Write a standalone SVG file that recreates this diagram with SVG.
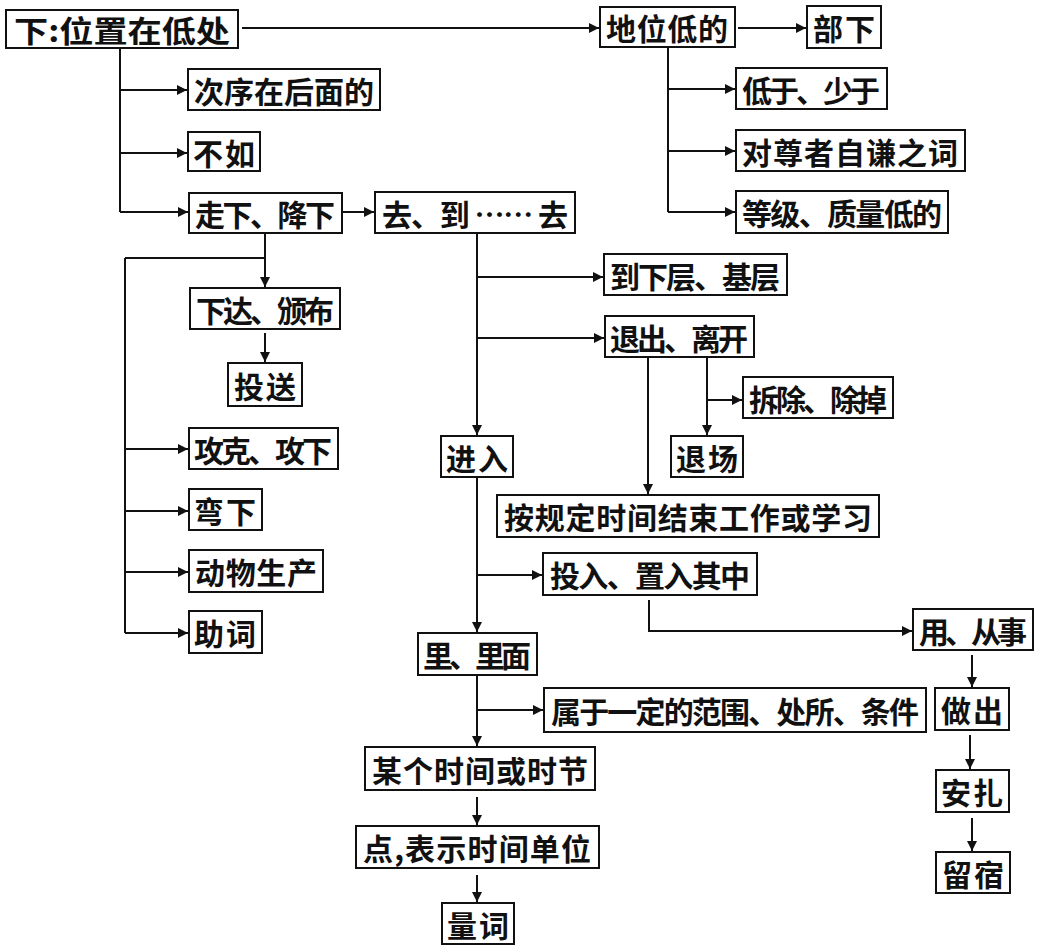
<svg xmlns="http://www.w3.org/2000/svg" width="1037" height="949" viewBox="0 0 1037 949">
<style>
.box{fill:#fff;stroke:#111;stroke-width:2}
.t{font-family:"Noto Sans CJK SC","Noto Sans CJK JP",sans-serif;font-size:30px;font-weight:700;fill:#111;text-anchor:middle;dominant-baseline:central}
.c{fill:none;stroke:#111;stroke-width:2}
</style>
<defs>
<marker id="ah" markerUnits="userSpaceOnUse" markerWidth="11" markerHeight="10" refX="10" refY="5" orient="auto">
<path d="M0,0 L10,5 L0,10 z" fill="#111"/>
</marker>
</defs>
<rect width="1037" height="949" fill="#fff"/>
<g id="connectors">
<path class="c" d="M242,28 H599" marker-end="url(#ah)"/>
<path class="c" d="M738,28 H806" marker-end="url(#ah)"/>
<path class="c" d="M668,47 V212"/>
<path class="c" d="M668,89 H735" marker-end="url(#ah)"/>
<path class="c" d="M668,151 H735" marker-end="url(#ah)"/>
<path class="c" d="M668,212 H735" marker-end="url(#ah)"/>
<path class="c" d="M120,49 V212"/>
<path class="c" d="M120,90 H187" marker-end="url(#ah)"/>
<path class="c" d="M120,153 H187" marker-end="url(#ah)"/>
<path class="c" d="M120,212 H188" marker-end="url(#ah)"/>
<path class="c" d="M342,212 H374" marker-end="url(#ah)"/>
<path class="c" d="M265,233 V287" marker-end="url(#ah)"/>
<path class="c" d="M125,258 H265"/>
<path class="c" d="M125,258 V633"/>
<path class="c" d="M125,449 H188" marker-end="url(#ah)"/>
<path class="c" d="M125,511 H188" marker-end="url(#ah)"/>
<path class="c" d="M125,572 H188" marker-end="url(#ah)"/>
<path class="c" d="M125,633 H188" marker-end="url(#ah)"/>
<path class="c" d="M265,333 V362" marker-end="url(#ah)"/>
<path class="c" d="M477,233 V435" marker-end="url(#ah)"/>
<path class="c" d="M477,277 H603" marker-end="url(#ah)"/>
<path class="c" d="M477,338 H604" marker-end="url(#ah)"/>
<path class="c" d="M648,357 V494" marker-end="url(#ah)"/>
<path class="c" d="M707,357 V435" marker-end="url(#ah)"/>
<path class="c" d="M707,400 H742" marker-end="url(#ah)"/>
<path class="c" d="M477,477 V632" marker-end="url(#ah)"/>
<path class="c" d="M477,575 H542" marker-end="url(#ah)"/>
<path class="c" d="M649,600 V631 H912" marker-end="url(#ah)"/>
<path class="c" d="M972,655 V687" marker-end="url(#ah)"/>
<path class="c" d="M477,675 V746" marker-end="url(#ah)"/>
<path class="c" d="M477,710 H543" marker-end="url(#ah)"/>
<path class="c" d="M970,735 V769" marker-end="url(#ah)"/>
<path class="c" d="M972,818 V851" marker-end="url(#ah)"/>
<path class="c" d="M477,797 V825" marker-end="url(#ah)"/>
<path class="c" d="M477,875 V902" marker-end="url(#ah)"/>
</g>
<g id="n1"><rect class="box" x="6" y="10" width="232" height="38"/><text class="t" x="122" y="29" textLength="216" lengthAdjust="spacingAndGlyphs">下:位置在低处</text></g>
<g id="n2"><rect class="box" x="600" y="7" width="135" height="40"/><text class="t" x="667" y="27" textLength="122">地位低的</text></g>
<g id="n3"><rect class="box" x="807" y="6" width="74" height="42"/><text class="t" x="844" y="27" textLength="62">部下</text></g>
<g id="n4"><rect class="box" x="736" y="68" width="151" height="41"/><text class="t" x="811" y="89" textLength="138">低于、少于</text></g>
<g id="n5"><rect class="box" x="736" y="130" width="229" height="41"/><text class="t" x="850" y="151" textLength="216">对尊者自谦之词</text></g>
<g id="n6"><rect class="box" x="736" y="191" width="212" height="42"/><text class="t" x="842" y="212" textLength="200">等级、质量低的</text></g>
<g id="n7"><rect class="box" x="188" y="69" width="192" height="41"/><text class="t" x="284" y="90" textLength="180">次序在后面的</text></g>
<g id="n8"><rect class="box" x="188" y="132" width="72" height="39"/><text class="t" x="224" y="152" textLength="62">不如</text></g>
<g id="n9"><rect class="box" x="189" y="193" width="153" height="40"/><text class="t" x="265" y="213" textLength="140">走下、降下</text></g>
<g id="n10"><rect class="box" x="375" y="192" width="200" height="41"/><text class="t" x="475" y="213" textLength="186">去、到 …… 去</text></g>
<g id="n11"><rect class="box" x="190" y="288" width="150" height="41"/><text class="t" x="265" y="309" textLength="138">下达、颁布</text></g>
<g id="n12"><rect class="box" x="228" y="363" width="74" height="43"/><text class="t" x="265" y="385" textLength="62">投送</text></g>
<g id="n13"><rect class="box" x="189" y="428" width="149" height="41"/><text class="t" x="263" y="449" textLength="138">攻克、攻下</text></g>
<g id="n14"><rect class="box" x="189" y="489" width="73" height="41"/><text class="t" x="225" y="510" textLength="62">弯下</text></g>
<g id="n15"><rect class="box" x="189" y="550" width="134" height="42"/><text class="t" x="256" y="571" textLength="122">动物生产</text></g>
<g id="n16"><rect class="box" x="189" y="611" width="73" height="42"/><text class="t" x="225" y="632" textLength="62">助词</text></g>
<g id="n17"><rect class="box" x="604" y="254" width="183" height="41"/><text class="t" x="695" y="275" textLength="170">到下层、基层</text></g>
<g id="n18"><rect class="box" x="605" y="316" width="149" height="41"/><text class="t" x="679" y="337" textLength="138">退出、离开</text></g>
<g id="n19"><rect class="box" x="743" y="377" width="150" height="41"/><text class="t" x="818" y="398" textLength="138">拆除、除掉</text></g>
<g id="n20"><rect class="box" x="441" y="436" width="72" height="41"/><text class="t" x="477" y="457" textLength="62">进入</text></g>
<g id="n21"><rect class="box" x="671" y="436" width="72" height="41"/><text class="t" x="707" y="457" textLength="62">退场</text></g>
<g id="n22"><rect class="box" x="497" y="495" width="382" height="42"/><text class="t" x="688" y="516" textLength="368">按规定时间结束工作或学习</text></g>
<g id="n23"><rect class="box" x="543" y="553" width="214" height="42"/><text class="t" x="650" y="574" textLength="200">投入、置入其中</text></g>
<g id="n24"><rect class="box" x="913" y="609" width="120" height="41"/><text class="t" x="973" y="630" textLength="108">用、从事</text></g>
<g id="n25"><rect class="box" x="418" y="633" width="119" height="42"/><text class="t" x="477" y="654" textLength="108">里、里面</text></g>
<g id="n26"><rect class="box" x="544" y="688" width="382" height="44"/><text class="t" x="735" y="710" textLength="368">属于一定的范围、处所、条件</text></g>
<g id="n27"><rect class="box" x="935" y="688" width="74" height="42"/><text class="t" x="972" y="709" textLength="62">做出</text></g>
<g id="n28"><rect class="box" x="936" y="770" width="73" height="42"/><text class="t" x="972" y="791" textLength="62">安扎</text></g>
<g id="n29"><rect class="box" x="936" y="852" width="74" height="41"/><text class="t" x="973" y="873" textLength="62">留宿</text></g>
<g id="n30"><rect class="box" x="365" y="747" width="230" height="43"/><text class="t" x="480" y="769" textLength="216">某个时间或时节</text></g>
<g id="n31"><rect class="box" x="356" y="826" width="243" height="42"/><text class="t" x="477" y="847" textLength="228">点,表示时间单位</text></g>
<g id="n32"><rect class="box" x="442" y="903" width="72" height="41"/><text class="t" x="478" y="924" textLength="62">量词</text></g>
</svg>
